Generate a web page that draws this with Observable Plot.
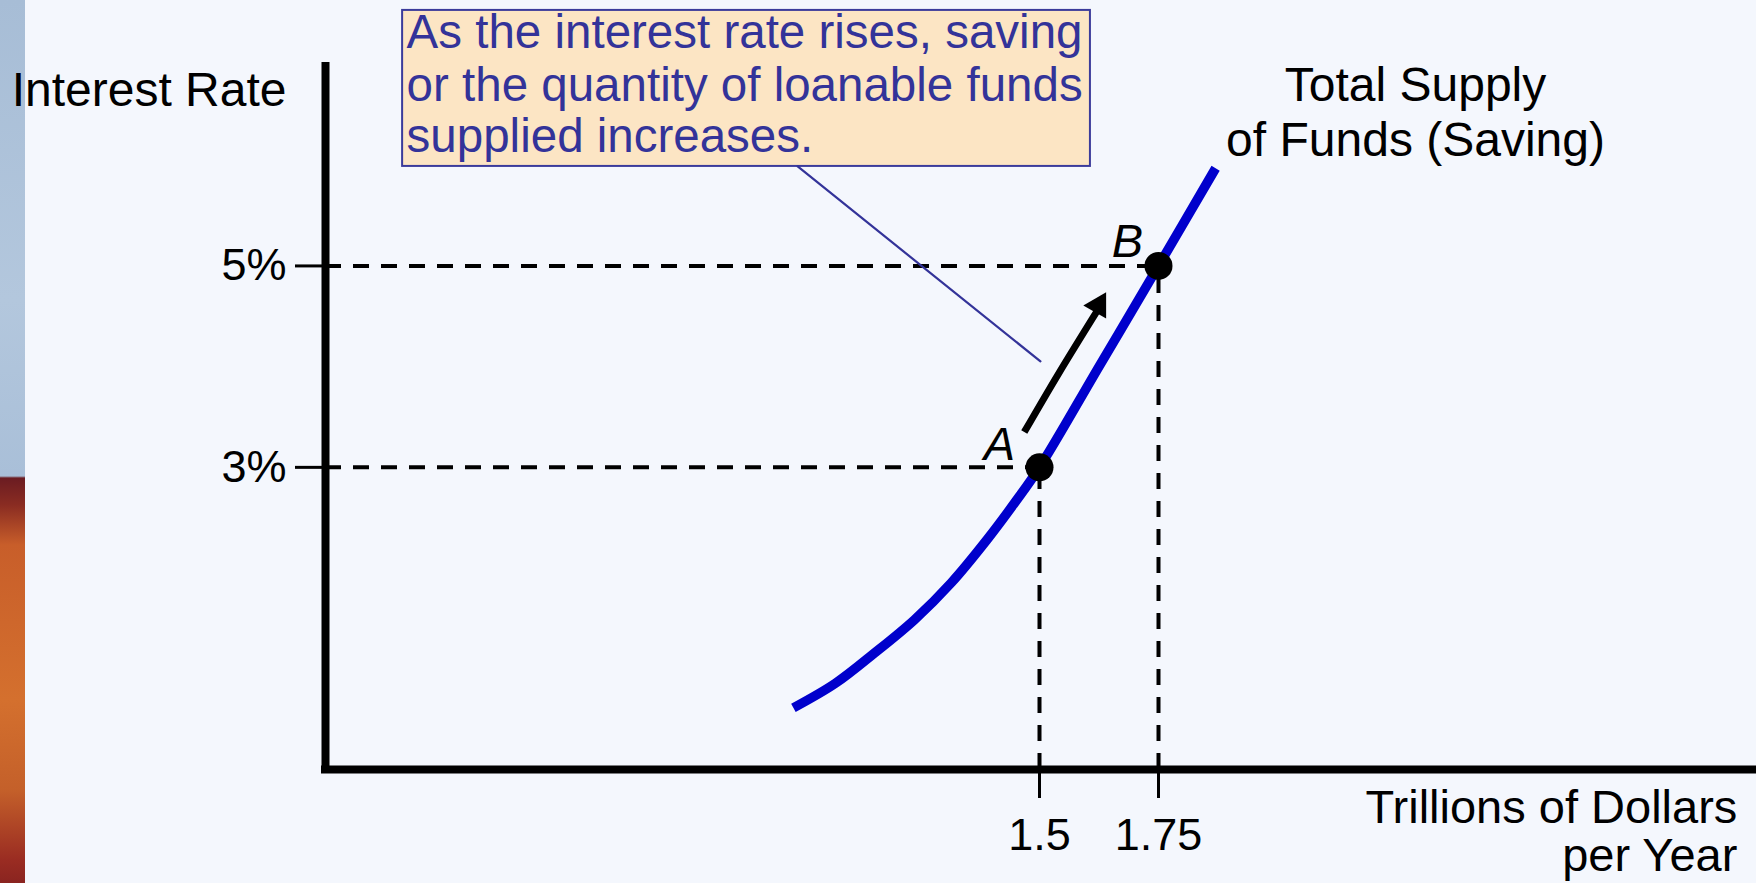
<!DOCTYPE html>
<html>
<head>
<meta charset="utf-8">
<script src="https://cdn.jsdelivr.net/npm/d3@7"></script>
<script src="https://cdn.jsdelivr.net/npm/@observablehq/plot@0.6"></script>
<style>
  html, body { margin: 0; padding: 0; background: #f4f7fd; overflow: hidden; }
  #wrap { position: relative; width: 1756px; height: 883px; }
  #strip { position: absolute; left: 0; top: 0; width: 25px; height: 883px;
    background: linear-gradient(to bottom, #a7bdd6 0px, #b3c7dd 300px, #a9bfd8 476px, #6b1c22 478px, #8a2c22 505px, #c85e2a 545px, #d4702e 700px, #c4602a 790px, #9a2c22 860px, #8a2420 883px); }
  #chart { position: absolute; left: 0; top: 0; }
</style>
</head>
<body>
<div id="wrap"><div id="strip"></div><div id="chart"></div></div>
<script>
// ---- data ----
const xTicks = [1.5, 1.75];
const xTickLabels = ["1.5", "1.75"];
const yTicks = [3, 5];
const yTickLabels = ["3%", "5%"];

// Total supply of funds (saving): quantity (trillions of dollars per year) vs interest rate (%)
const supplyQ = [0.983, 1.071, 1.154, 1.2375, 1.315, 1.39, 1.45, 1.5, 1.625, 1.75, 1.87];
const supplyR = [0.612, 0.855, 1.159, 1.488, 1.856, 2.284, 2.662, 3.0, 4.0, 5.0, 5.97];

const pointNames = ["A", "B"];
const pointQ = [1.5, 1.75];
const pointR = [3, 5];

// movement arrow along the curve (A toward B)
const arrowQ = [1.468, 1.54, 1.622];
const arrowR = [3.35, 3.93, 4.56];
const arrowHeadQ = [1.624];
const arrowHeadR = [4.608];

const noteLines = [
  "As the interest rate rises, saving",
  "or the quantity of loanable funds",
  "supplied increases."
];
const noteBoxQ = [0.162, 1.607];
const noteBoxR = [5.988, 7.537];
const noteLineQ = [0.992, 1.502];
const noteLineR = [5.988, 4.052];
const noteTextR = [7.31, 6.79, 6.285];

const yTitle = "Interest Rate";
const xTitle = "Trillions of Dollars\nper Year";
const curveTitle = "Total Supply\nof Funds (Saving)";

// ---- build ----
const supply = supplyQ.map((q, i) => ({q, r: supplyR[i]}));
const points = pointNames.map((n, i) => ({n, q: pointQ[i], r: pointR[i]}));
const arrow = arrowQ.map((q, i) => ({q, r: arrowR[i]}));
const notes = noteLines.map((t, i) => ({t, r: noteTextR[i]}));
const noteLink = noteLineQ.map((q, i) => ({q, r: noteLineR[i]}));

const dash = "16,12";
const font = "'Liberation Sans', Arial, Helvetica, sans-serif";

const chart = Plot.plot({
  width: 1756,
  height: 883,
  marginLeft: 325,
  marginRight: 3,
  marginTop: 64,
  marginBottom: 114,
  x: {domain: [0, 3]},
  y: {domain: [0, 7]},
  style: {fontFamily: font, background: "transparent", color: "black", overflow: "visible"},
  marks: [
    // dashed guides
    Plot.ruleY(points, {y: "r", x1: 0, x2: "q", stroke: "black", strokeWidth: 4, strokeDasharray: dash}),
    Plot.ruleX(points, {x: "q", y1: 0, y2: "r", stroke: "black", strokeWidth: 4, strokeDasharray: dash}),
    // annotation box
    Plot.rect([{}], {x1: noteBoxQ[0], x2: noteBoxQ[1], y1: noteBoxR[0], y2: noteBoxR[1], fill: "#fce5c4", stroke: "#3b3b9b", strokeWidth: 2}),
    Plot.text(notes, {x: noteBoxQ[0], y: "r", text: "t", textAnchor: "start", dx: 4, fontSize: 47.5, fill: "#333399"}),
    Plot.line(noteLink, {x: "q", y: "r", stroke: "#333399", strokeWidth: 2.2}),
    // supply curve
    Plot.line(supply, {x: "q", y: "r", stroke: "#0000cc", strokeWidth: 9.5, curve: "catmull-rom", strokeLinecap: "butt"}),
    // arrow
    Plot.line(arrow, {x: "q", y: "r", stroke: "black", strokeWidth: 7, curve: "natural", strokeLinecap: "butt"}),
    Plot.dot([{}], {x: arrowHeadQ[0], y: arrowHeadR[0], symbol: "triangle", r: 9.8, rotate: 30, fill: "black", stroke: "none"}),
    // points
    Plot.dot(points, {x: "q", y: "r", r: 14, fill: "black", stroke: "none"}),
    Plot.text(points.filter((d) => d.n === "A"), {x: "q", y: "r", text: "n", fontSize: 47, fontStyle: "italic", fill: "black", textAnchor: "middle", dx: -40, dy: -22}),
    Plot.text(points.filter((d) => d.n === "B"), {x: "q", y: "r", text: "n", fontSize: 47, fontStyle: "italic", fill: "black", textAnchor: "middle", dx: -31, dy: -24}),
    // axes
    Plot.axisX({ticks: xTicks, tickFormat: (d) => xTickLabels[xTicks.indexOf(d)], tickSize: 29, tickPadding: 20, fontSize: 45, strokeWidth: 3, label: null}),
    Plot.axisY({ticks: yTicks, tickFormat: (d) => yTickLabels[yTicks.indexOf(d)], tickSize: 30, tickPadding: 9, fontSize: 45, strokeWidth: 3, label: null}),
    Plot.ruleX([0], {y1: 0, y2: 6.98, stroke: "black", strokeWidth: 8, strokeLinecap: "square"}),
    Plot.ruleY([0], {x1: 0, x2: 3.1, stroke: "black", strokeWidth: 8, strokeLinecap: "square"}),
    // titles
    Plot.text([yTitle], {x: -0.082, y: 6.74, text: (d) => d, textAnchor: "end", fontSize: 48, fill: "black"}),
    Plot.text([xTitle], {x: 2.966, y: -0.616, text: (d) => d, textAnchor: "end", fontSize: 47, lineHeight: 1.02, fill: "black"}),
    Plot.text([curveTitle], {x: 2.29, y: 6.54, text: (d) => d, textAnchor: "middle", fontSize: 48, lineHeight: 1.15, fill: "black"})
  ]
});

document.getElementById("chart").appendChild(chart);
</script>
</body>
</html>
